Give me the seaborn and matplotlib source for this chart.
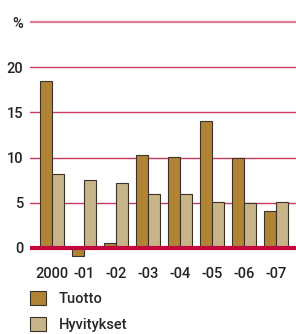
import matplotlib
matplotlib.use("Agg")
import matplotlib.pyplot as plt
import seaborn as sns
import pandas as pd

years = ["2000", "-01", "-02", "-03", "-04", "-05", "-06", "-07"]
tuotto = [18.5, -0.9, 0.5, 10.3, 10.1, 14.1, 9.9, 4.05]
hyvitykset = [8.2, 7.5, 7.2, 6.0, 6.0, 5.05, 5.0, 5.1]
series_names = ["Tuotto", "Hyvitykset"]
yticks = [0, 5, 10, 15, 20, 25]
ytick_labels = ["0", "5", "10", "15", "20", "%"]

df = pd.DataFrame({
    "year": years * 2,
    "value": tuotto + hyvitykset,
    "series": [series_names[0]] * len(years) + [series_names[1]] * len(years),
})

sns.set_style("white")
plt.rcParams["font.family"] = ["Roboto", "DejaVu Sans"]
plt.rcParams["font.weight"] = "medium"

fig = plt.figure(figsize=(2.96, 3.34), dpi=100)
ax = fig.add_axes([30 / 296, (334 - 266) / 334, 1 - 30 / 296, (266 - 19.3) / 334])

palette = {"Tuotto": "#B08434", "Hyvitykset": "#C8B489"}
sns.barplot(data=df, x="year", y="value", hue="series", palette=palette,
            width=0.75, edgecolor="#3A3326", linewidth=0.8, ax=ax,
            legend=True, saturation=1, zorder=3)

for v in [5, 10, 15, 20]:
    ax.axhline(v, color="#CC3A60", lw=1.0, zorder=1)
ax.axhline(25, color="#DB7C94", lw=1.6, zorder=1)
ax.axhline(0, color="#C2073F", lw=3.0, zorder=4)

ax.set_ylim(-2, 25.3)
ax.set_xlim(-0.69, len(years) - 1 + 0.625)
ax.set_yticks(yticks)
ax.set_yticklabels(ytick_labels)
ax.set_xlabel("")
ax.set_ylabel("")
for s in ax.spines.values():
    s.set_visible(False)
ax.tick_params(axis="both", length=0, labelsize=10.5, colors="#222222")
ax.tick_params(axis="x", pad=1)
ax.tick_params(axis="y", pad=5)
ax.grid(False)

handles, labels = ax.get_legend_handles_labels()
ax.get_legend().remove()
fig.legend(handles, labels, loc="upper left", bbox_to_anchor=(24 / 296, 1 - 285 / 334),
           frameon=False, fontsize=10.5, handlelength=1.1, handleheight=1.15,
           handletextpad=0.9, labelspacing=0.75, borderaxespad=0)

fig.savefig("out.png", dpi=100)
